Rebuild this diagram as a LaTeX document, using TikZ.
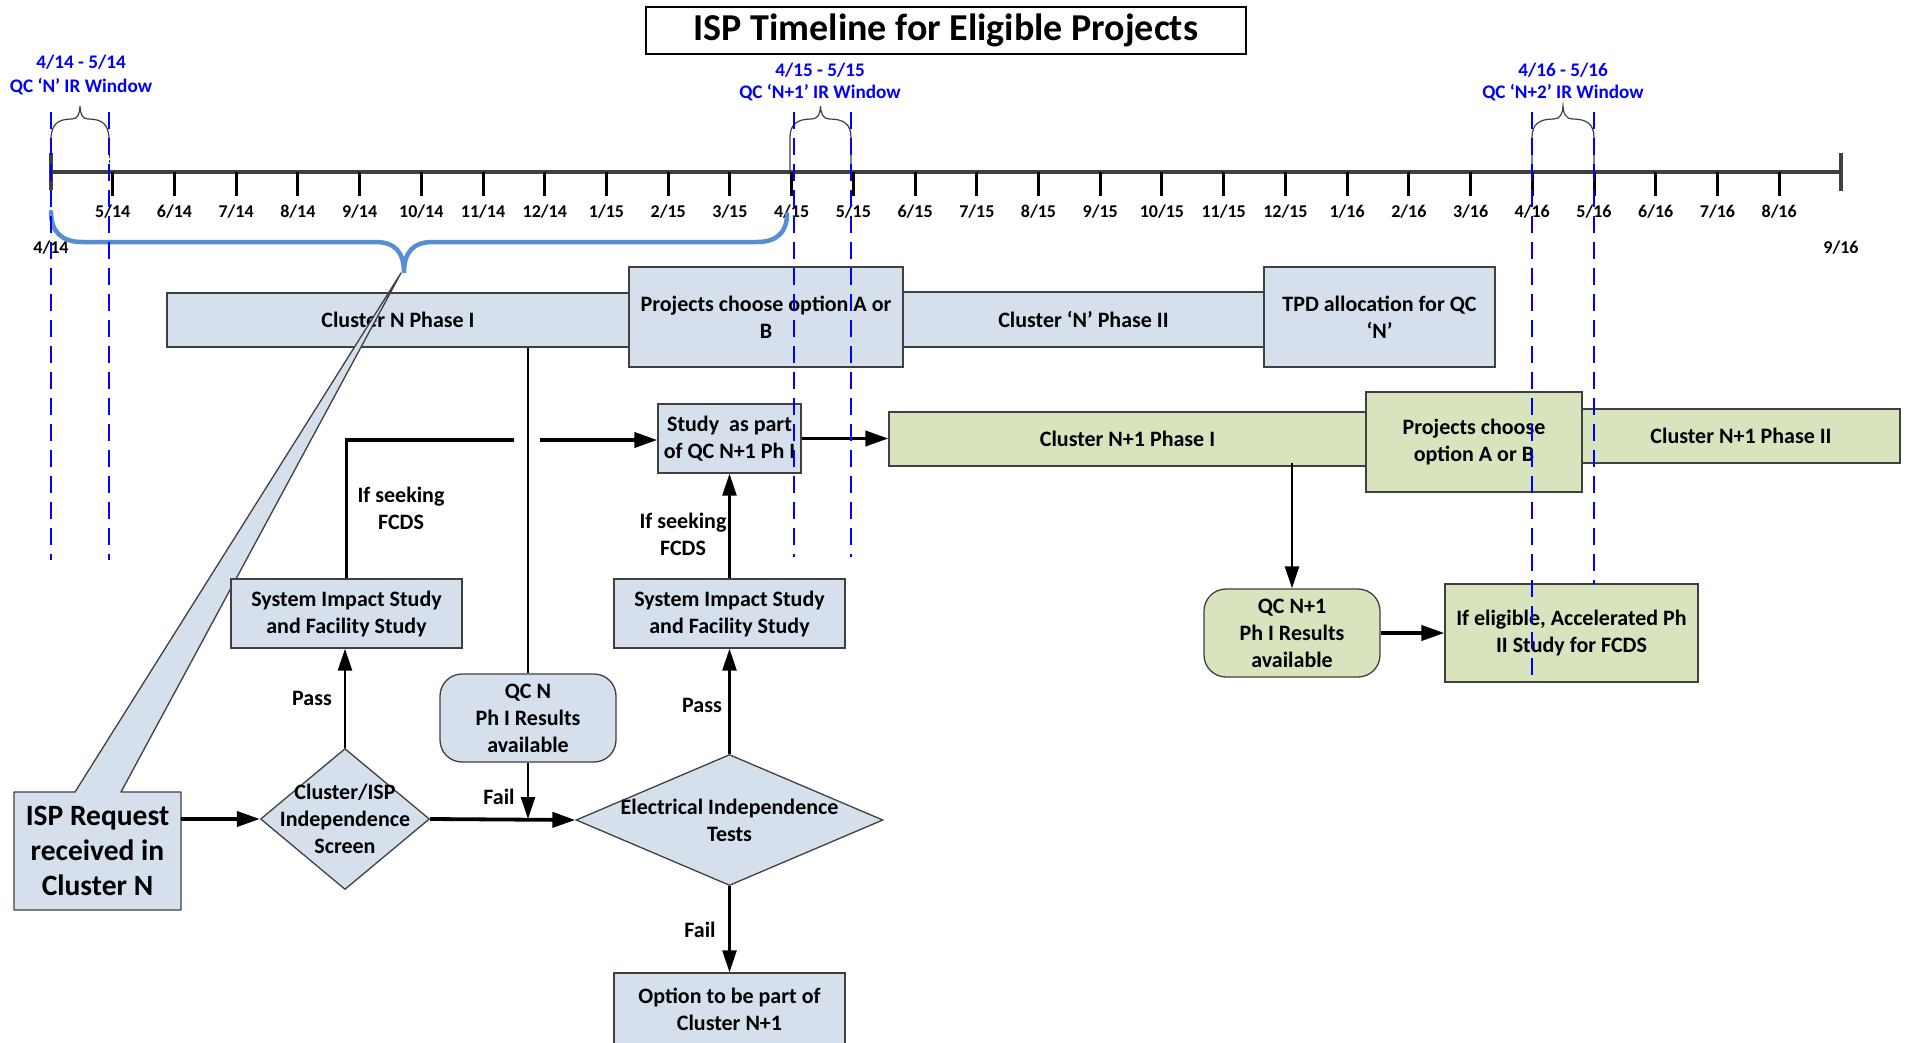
\documentclass[tikz,border=0pt]{standalone}
\usepackage{fontspec}
\setmainfont{Carlito}
\usetikzlibrary{arrows.meta,shapes.geometric}
\definecolor{boxblue}{RGB}{214,223,236}
\definecolor{boxgreen}{RGB}{215,228,189}
\definecolor{edgegray}{RGB}{64,64,64}
\definecolor{axisgray}{RGB}{64,64,64}
\definecolor{bracebl}{RGB}{85,142,213}
\definecolor{winblue}{RGB}{0,0,255}
\newcommand{\fbx}{\bfseries\fontsize{22}{27}\selectfont}
\newcommand{\fsm}{\bfseries\fontsize{18}{22}\selectfont}
\newcommand{\fwin}{\bfseries\fontsize{19.2}{23}\selectfont}
\newcommand{\fbig}{\bfseries\fontsize{29.5}{35}\selectfont}
\newcommand{\fttl}{\bfseries\fontsize{38}{44}\selectfont}
\begin{document}
\begin{tikzpicture}[x=1pt,y=-1pt,
  bbox/.style={draw=edgegray,line width=1.3pt,fill=boxblue,inner sep=0pt,align=center,font=\fbx},
  gbox/.style={bbox,fill=boxgreen},
  rbox/.style={bbox,rounded corners=22pt},
  dia/.style={diamond,draw=edgegray,line width=1.3pt,fill=boxblue,inner sep=0pt},
  txt/.style={inner sep=0pt,align=center,font=\fbx},
  ticklab/.style={inner sep=0pt,font=\fsm},
  win/.style={inner sep=0pt,font=\fwin,text=winblue},
  thinarr/.style={line width=2.6pt,-{Triangle[length=22pt,width=14pt]}},
  thickarr/.style={line width=3.8pt,-{Triangle[length=23pt,width=15pt]}},
  ln/.style={line width=2.6pt},
  vdash/.style={draw=winblue,line width=2pt,dash pattern=on 17pt off 9pt},
  smbrace/.style={draw=edgegray,line width=1.2pt},
]
\path[use as bounding box,fill=white] (0,0) rectangle (1908,1042);
\clip (0,0) rectangle (1908,1042);

% title
\node[draw=black,line width=1.2pt,fill=white,minimum width=600pt,minimum height=47pt,inner sep=0pt,font=\fttl] (title) at (946,30.5) {ISP Timeline for Eligible Projects};

% axis
\draw[line width=4pt,axisgray] (51,172) -- (1841,172);
\foreach \i in {1,...,28} {
  \pgfmathtruncatemacro\mo{mod(\i+3,12)+1}
  \pgfmathtruncatemacro\yr{14+floor((\i+3)/12)}
  \draw[line width=3pt,black] (51+61.72*\i,172) -- (51+61.72*\i,196);
  \node[ticklab] (t\i) at (51+61.72*\i,212) {\mo/\yr};
}
\draw[line width=4.5pt,axisgray] (51,153) -- (51,190);
\draw[line width=4.5pt,axisgray] (1841,153) -- (1841,191);
\node[ticklab] (t0) at (51,248) {4/14};
\node[ticklab] (t29) at (1841,248) {9/16};

% window labels
\node[win] (w1a) at (81,62) {4/14 - 5/14};
\node[win] (w1b) at (81,87) {QC ‘N’ IR Window};
\node[win] (w2a) at (820,70) {4/15 - 5/15};
\node[win] (w2b) at (820,93) {QC ‘N+1’ IR Window};
\node[win] (w3a) at (1563,70) {4/16 - 5/16};
\node[win] (w3b) at (1563,93) {QC ‘N+2’ IR Window};

% small braces
\draw[smbrace] (51,140) .. controls (51,124) and (58,119) .. (72,119) .. controls (78,119) and (80,113) .. (80,106) .. controls (80,113) and (82,119) .. (88,119) .. controls (102,119) and (109,124) .. (109,140);
\draw[edgegray,line width=0.8pt,densely dashed] (109,140) -- (109,172);
\draw[smbrace] (790,172) -- (790,138) .. controls (790,124) and (797,119) .. (812,119) .. controls (818,119) and (820.5,113) .. (820.5,106) .. controls (820.5,113) and (823,119) .. (829,119) .. controls (844,119) and (851,124) .. (851,138) -- (851,172);
\draw[smbrace] (1532,172) -- (1532,138) .. controls (1532,124) and (1539,119) .. (1554,119) .. controls (1560,119) and (1563,113) .. (1563,106) .. controls (1563,113) and (1566,119) .. (1572,119) .. controls (1587,119) and (1594,124) .. (1594,138) -- (1594,172);

% top row (cluster N)
\node[bbox,minimum width=462pt,minimum height=54pt] (cnp1) at (398,320) {Cluster N Phase I};
\node[bbox,minimum width=361pt,minimum height=55pt] (cnp2) at (1083.5,319.5) {Cluster ‘N’ Phase II};
\node[bbox,minimum width=274pt,minimum height=100pt] (pca) at (766,317) {Projects choose option A or\\B};
\node[bbox,minimum width=231pt,minimum height=100pt] (tpd) at (1379.5,317) {TPD allocation for QC\\‘N’};

% green row
\node[gbox,minimum width=477pt,minimum height=54pt] (g1) at (1127.5,439) {Cluster N+1 Phase I};
\node[gbox,minimum width=318pt,minimum height=54pt] (g3) at (1741,436) {Cluster N+1 Phase II};
\node[gbox,minimum width=216pt,minimum height=100pt] (g2) at (1474,442) {Projects choose\\option A or B};

% callout
\path[draw=edgegray,line width=1.3pt,fill=boxblue,line join=round] (14,792) -- (75,792) -- (401,273) -- (121,792) -- (181,792) -- (181,910) -- (14,910) -- cycle;
\node[txt,font=\fbig,minimum width=167pt,minimum height=118pt] (isp) at (97.5,851) {ISP Request\\received in\\Cluster N};

% flow boxes
\node[bbox,minimum width=143pt,minimum height=69pt] (study) at (729.5,438.5) {Study\ \ as part\\of QC N+1 Ph I};
\node[bbox,minimum width=231pt,minimum height=69pt] (sis1) at (346.5,613.5) {System Impact Study\\and Facility Study};
\node[bbox,minimum width=231pt,minimum height=69pt] (sis2) at (729.5,613.5) {System Impact Study\\and Facility Study};
\node[rbox,minimum width=176pt,minimum height=88pt] (qcn) at (528,718) {QC N\\Ph I Results\\available};
\node[dia,minimum width=169pt,minimum height=141pt] (d1) at (345,819) {};
\node[txt] (d1t) at (d1.center) {Cluster/ISP\\Independence\\Screen};
\node[dia,minimum width=307pt,minimum height=131pt] (d2) at (729.5,820) {};
\node[txt] (d2t) at (729.5,820.5) {Electrical Independence\\Tests};
\node[bbox,minimum width=231pt,minimum height=72pt] (opt) at (729.5,1009) {Option to be part of\\Cluster N+1};
\node[gbox,rounded corners=22pt,minimum width=176pt,minimum height=88pt] (qcn1) at (1292,633) {QC N+1\\Ph I Results\\available};
\node[gbox,minimum width=253pt,minimum height=98pt] (elig) at (1571.5,633) {If eligible, Accelerated Ph\\II Study for FCDS};

% connectors
\coordinate (hopL) at (514,440);
\coordinate (hopR) at (540,440);
\draw[thickarr] (isp.east |- d1.west) -- (d1.west);
\draw[thinarr] (d1.north) -- (d1.north |- sis1.south);
\node[txt] (pass1) at (312,698) {Pass};
\draw[line width=3.2pt] (sis1.north) |- (hopL);
\draw[thickarr] (hopR) -- (study.west |- hopR);
\node[txt] (ifs1) at (401,508) {If seeking\\FCDS};
\draw[ln] (qcn.north |- cnp1.south) -- (qcn.north);
\draw[thinarr] (qcn.south) -- (qcn.south |- d1.east);
\node[txt] (fail1) at (499,797) {Fail};
\draw[thickarr] (d1.east) -- (d2.west);
\draw[thinarr] (d2.north) -- (d2.north |- sis2.south);
\node[txt] (pass2) at (702,705) {Pass};
\draw[thinarr] (sis2.north) -- (sis2.north |- study.south);
\node[txt] (ifs2) at (683,534) {If seeking\\FCDS};
\draw[thickarr] (study.east) -- (study.east -| g1.west);
\draw[thinarr] (d2.south) -- (d2.south |- opt.north);
\node[txt] (fail2) at (700,930) {Fail};
\draw[thinarr] ([yshift=4pt]qcn1.north |- g1.south) -- (qcn1.north);
\draw[thickarr] (qcn1.east) -- (qcn1.east -| elig.west);

% big blue brace
\draw[bracebl,line width=4.5pt,line cap=round] (51,212) .. controls (51,232) and (62,242) .. (82,242) -- (375,242) .. controls (395,242) and (404,252) .. (404,273) .. controls (404,252) and (413,242) .. (433,242) -- (757,242) .. controls (777,242) and (787,232) .. (787,214);

% IR window dashed lines
\draw[vdash] (51,112) -- (51,560);
\draw[vdash] (109,112) -- (109,560);
\draw[vdash] (794,112) -- (794,557);
\draw[vdash] (851,112) -- (851,557);
\draw[vdash] (1532,112) -- (1532,682);
\draw[vdash] (1594,112) -- (1594,584);
\end{tikzpicture}
\end{document}
